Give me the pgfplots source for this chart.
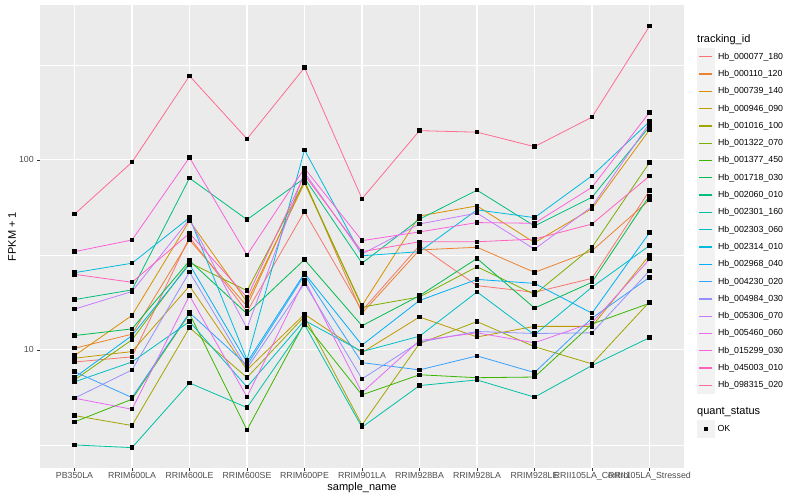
\documentclass[border=0pt]{standalone}
\usepackage{fontspec}
\setmainfont{Liberation Sans}
\usepackage{pgfplots}
\pgfplotsset{compat=1.18}

% ggplot hue palette, 20 levels
\definecolor{c01}{HTML}{F8766D}
\definecolor{c02}{HTML}{EA8331}
\definecolor{c03}{HTML}{D89000}
\definecolor{c04}{HTML}{C09B00}
\definecolor{c05}{HTML}{A3A500}
\definecolor{c06}{HTML}{7CAE00}
\definecolor{c07}{HTML}{39B600}
\definecolor{c08}{HTML}{00BB4E}
\definecolor{c09}{HTML}{00BF7D}
\definecolor{c10}{HTML}{00C1A3}
\definecolor{c11}{HTML}{00BFC4}
\definecolor{c12}{HTML}{00BAE0}
\definecolor{c13}{HTML}{00B0F6}
\definecolor{c14}{HTML}{35A2FF}
\definecolor{c15}{HTML}{9590FF}
\definecolor{c16}{HTML}{C77CFF}
\definecolor{c17}{HTML}{E76BF3}
\definecolor{c18}{HTML}{FA62DB}
\definecolor{c19}{HTML}{FF62BC}
\definecolor{c20}{HTML}{FF6C91}
\definecolor{panelbg}{HTML}{EBEBEB}
\definecolor{keybg}{HTML}{F2F2F2}
\definecolor{ticktext}{HTML}{4D4D4D}
\definecolor{tickline}{HTML}{333333}

\pgfplotsset{
  ggline/.style={color=#1, line width=0.8bp, mark=square*, mark size=1.7bp,
                 mark options={draw=black, fill=black, line width=0bp}},
}

\begin{document}
\begin{tikzpicture}
\useasboundingbox (0,0) rectangle (800bp,500bp);

\begin{axis}[
  name=main,
  at={(40bp,32bp)}, anchor=south west,
  scale only axis, width=644bp, height=463bp,
  ymode=log, ymin=2.39, ymax=654,
  xmin=-0.6, xmax=10.6,
  xtick={0,...,10},
  xticklabels={PB350LA,RRIM600LA,RRIM600LE,RRIM600SE,RRIM600PE,RRIM901LA,RRIM928BA,RRIM928LA,RRIM928LE,RRII105LA\_Control,RRII105LA\_Stressed},
  ytick={10,100}, yticklabels={10,100},
  minor ytick={3.1623,31.623,316.23},
  /pgf/number format/assume math mode=true,
  axis background/.style={fill=panelbg},
  axis line style={draw=none},
  xmajorgrids, ymajorgrids, yminorgrids,
  major grid style={white, line width=1.07bp},
  minor grid style={white, line width=0.53bp},
  tick align=outside, tick pos=left,
  major tick length=2.75bp, minor tick length=0bp,
  tick style={tickline, line width=0.5bp},
  ticklabel style={font=\fontsize{8.8bp}{10bp}\selectfont, text=ticktext},
  xticklabel style={inner sep=1.5bp},
  xlabel={sample\_name}, ylabel={FPKM + 1},
  label style={font=\fontsize{11bp}{13bp}\selectfont},
  xlabel style={at={(axis description cs:0.5,-0.0432)}, anchor=center},
  ylabel style={at={(axis description cs:-0.0435,0.5)}, anchor=center},
  legend cell align=left,
  legend style={at={(axis description cs:1.0202,0.9072)}, anchor=north west,
                draw=none, fill=none, inner sep=0pt, row sep=0.2bp,
                font=\fontsize{8.8bp}{10bp}\selectfont,
                nodes={inner sep=0pt},
                /tikz/every odd column/.append style={column sep=3.7bp}},
  legend image code/.code={
    \fill[keybg] (0bp,-8.15bp) rectangle (16.3bp,8.15bp);
    \draw[#1, mark=none, line width=1.3bp] (1.5bp,0bp) -- (14.8bp,0bp);
  },
]

\addplot[ggline=c01] coordinates {(0,8.64) (1,9.19) (2,39.2) (3,15.9) (4,53.5) (5,16.1) (6,35.4) (7,21.8) (8,20.1) (9,23.8) (10,68.9)};
\addlegendentry{Hb\_000077\_180}
\addplot[ggline=c02] coordinates {(0,10.2) (1,12.1) (2,37.9) (3,17.0) (4,78) (5,15.6) (6,33.6) (7,34.7) (8,25.6) (9,33.3) (10,61.5)};
\addlegendentry{Hb\_000110\_120}
\addplot[ggline=c03] coordinates {(0,9.33) (1,15.2) (2,47.9) (3,17.9) (4,75.5) (5,17.1) (6,50.7) (7,57.3) (8,36.7) (9,55.5) (10,144)};
\addlegendentry{Hb\_000739\_140}
\addplot[ggline=c04] coordinates {(0,9.04) (1,9.8) (2,21.7) (3,7.85) (4,15.4) (5,9.68) (6,14.9) (7,11.7) (8,13.3) (9,13.3) (10,31.5)};
\addlegendentry{Hb\_000946\_090}
\addplot[ggline=c05] coordinates {(0,4.51) (1,4.0) (2,13.1) (3,7.15) (4,15.0) (5,4.03) (6,10.8) (7,14.1) (8,10.4) (9,8.44) (10,17.9)};
\addlegendentry{Hb\_001016\_100}
\addplot[ggline=c06] coordinates {(0,6.95) (1,11.3) (2,28.8) (3,20.5) (4,76.9) (5,16.8) (6,19.0) (7,27.4) (8,19.6) (9,34.7) (10,96.8)};
\addlegendentry{Hb\_001322\_070}
\addplot[ggline=c07] coordinates {(0,4.18) (1,5.50) (2,15.5) (3,3.79) (4,13.9) (5,5.8) (6,7.4) (7,7.14) (8,7.2) (9,13.7) (10,17.6)};
\addlegendentry{Hb\_001377\_450}
\addplot[ggline=c08] coordinates {(0,11.9) (1,12.9) (2,29.5) (3,15.5) (4,29.9) (5,13.4) (6,19.3) (7,30.3) (8,16.6) (9,22.7) (10,64.8)};
\addlegendentry{Hb\_001718\_030}
\addplot[ggline=c09] coordinates {(0,18.4) (1,20.7) (2,80.2) (3,48.5) (4,80.2) (5,28.6) (6,48.8) (7,69.3) (8,44.9) (9,63.6) (10,150)};
\addlegendentry{Hb\_002060\_010}
\addplot[ggline=c10] coordinates {(0,3.16) (1,3.06) (2,6.7) (3,4.97) (4,13.6) (5,3.92) (6,6.49) (7,6.95) (8,5.64) (9,8.28) (10,11.6)};
\addlegendentry{Hb\_002301\_160}
\addplot[ggline=c11] coordinates {(0,6.79) (1,8.64) (2,14.1) (3,6.38) (4,14.3) (5,9.8) (6,11.8) (7,20.2) (8,12.0) (9,21.4) (10,35.4)};
\addlegendentry{Hb\_002303\_060}
\addplot[ggline=c12] coordinates {(0,25.5) (1,28.6) (2,49.7) (3,8.86) (4,113) (5,31.3) (6,32.9) (7,54.6) (8,49.7) (9,82.6) (10,159)};
\addlegendentry{Hb\_002314\_010}
\addplot[ggline=c13] coordinates {(0,7.15) (1,11.9) (2,28.2) (3,8.6) (4,25.3) (5,10.6) (6,18.2) (7,23.5) (8,22.4) (9,15.6) (10,41.4)};
\addlegendentry{Hb\_002968\_040}
\addplot[ggline=c14] coordinates {(0,7.69) (1,5.61) (2,15.7) (3,8.3) (4,24.8) (5,8.57) (6,7.85) (7,9.3) (8,7.6) (9,14.7) (10,24.1)};
\addlegendentry{Hb\_004230\_020}
\addplot[ggline=c15] coordinates {(0,5.57) (1,7.85) (2,25.7) (3,8.0) (4,22.4) (5,7.04) (6,11.0) (7,12.5) (8,12.2) (9,12.3) (10,26.1)};
\addlegendentry{Hb\_004984\_030}
\addplot[ggline=c16] coordinates {(0,16.4) (1,20.3) (2,48.7) (3,13.0) (4,86) (5,32.0) (6,46.0) (7,52.5) (8,33.9) (9,56.8) (10,156)};
\addlegendentry{Hb\_005306\_070}
\addplot[ggline=c17] coordinates {(0,5.57) (1,4.87) (2,19.3) (3,5.66) (4,23.4) (5,5.96) (6,11.2) (7,12.3) (8,10.9) (9,13.9) (10,30.0)};
\addlegendentry{Hb\_005460\_060}
\addplot[ggline=c18] coordinates {(0,32.9) (1,37.9) (2,103) (3,31.6) (4,90.4) (5,37.6) (6,41.8) (7,46.8) (8,46.4) (9,71.8) (10,178)};
\addlegendentry{Hb\_015299\_030}
\addplot[ggline=c19] coordinates {(0,25.0) (1,22.7) (2,41.1) (3,18.9) (4,83.4) (5,32.9) (6,37.1) (7,37.1) (8,38.3) (9,46.0) (10,82.3)};
\addlegendentry{Hb\_045003\_010}
\addplot[ggline=c20] coordinates {(0,51.8) (1,97.3) (2,277) (3,129) (4,306) (5,62.5) (6,142.6) (7,140) (8,117.5) (9,168) (10,506)};
\addlegendentry{Hb\_098315\_020}
\end{axis}

% second legend: quant_status
\begin{axis}[
  at={(697bp,69.85bp)}, anchor=south west,
  scale only axis, width=10bp, height=10bp,
  hide axis, xmin=0, xmax=1, ymin=0, ymax=1,
  legend cell align=left,
  legend style={at={(0,1)}, anchor=north west,
                draw=none, fill=none, inner sep=0pt,
                font=\fontsize{8.8bp}{10bp}\selectfont,
                nodes={inner sep=0pt},
                /tikz/every odd column/.append style={column sep=3.7bp}},
  legend image code/.code={
    \fill[keybg] (0bp,-8.15bp) rectangle (16.3bp,8.15bp);
    \draw[#1] plot coordinates {(8.15bp,0bp)};
  },
]
\addplot[draw=none, forget plot] coordinates {(0,0) (1,1)};
\addlegendimage{only marks, mark=square*, mark size=1.5bp, black}
\addlegendentry{OK}
\end{axis}

\node[anchor=base west, inner sep=0pt, font=\fontsize{11bp}{13bp}\selectfont] at (697bp,457bp) {tracking\_id};
\node[anchor=base west, inner sep=0pt, font=\fontsize{11bp}{13bp}\selectfont] at (697bp,85.5bp) {quant\_status};
\end{tikzpicture}
\end{document}
